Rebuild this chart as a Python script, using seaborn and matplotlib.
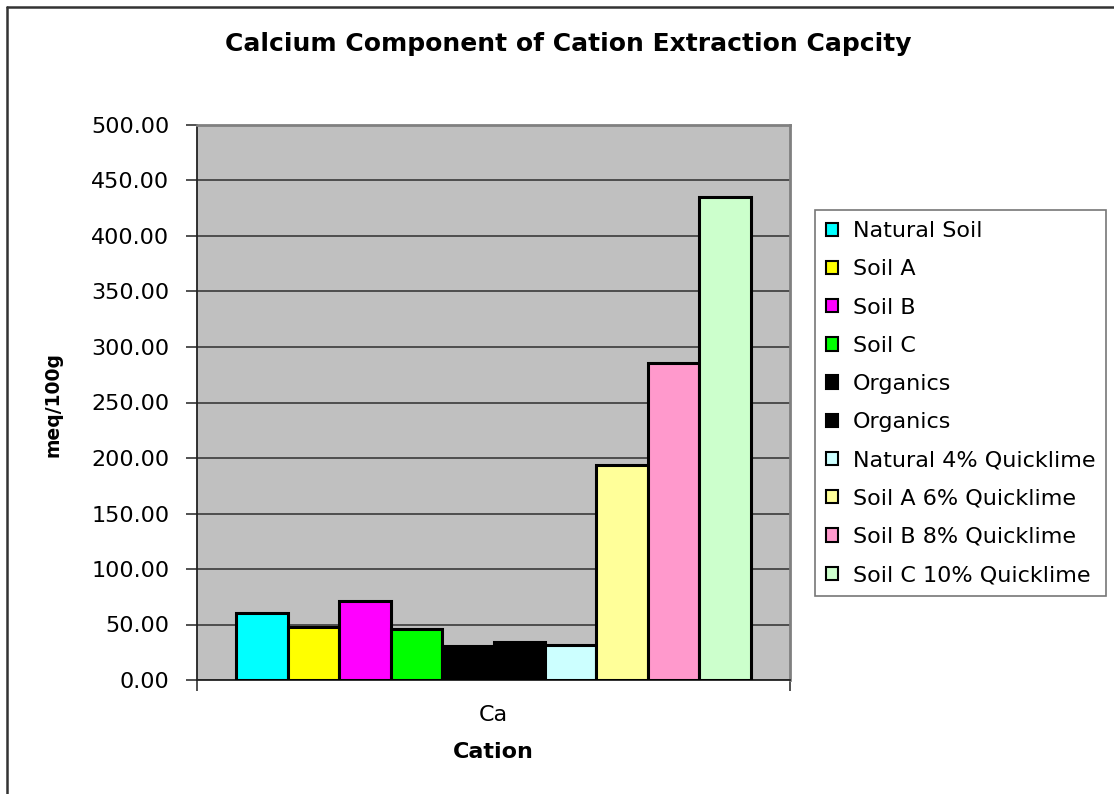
import matplotlib
matplotlib.use("Agg")
import matplotlib.pyplot as plt
import seaborn as sns
import pandas as pd
from matplotlib.patches import Patch
from matplotlib.lines import Line2D
from matplotlib.ticker import FormatStrFormatter

# ---- data ----
categories = ["Ca"]
series_labels = ["Natural Soil", "Soil A", "Soil B", "Soil C", "Organics", "Organics",
                 "Natural 4% Quicklime", "Soil A 6% Quicklime", "Soil B 8% Quicklime",
                 "Soil C 10% Quicklime"]
values = [60.5, 47.7, 71.3, 46.1, 30.8, 34.2, 31.7, 193.6, 285.3, 434.9]
colors = ["#00FFFF", "#FFFF00", "#FF00FF", "#00FF00", "#000000", "#000000",
          "#CCFFFF", "#FFFF99", "#FF99CC", "#CCFFCC"]
yticks = [0, 50, 100, 150, 200, 250, 300, 350, 400, 450, 500]

series_ids = [f"s{i}" for i in range(len(series_labels))]
df = pd.DataFrame({"Cation": categories * len(values), "value": values, "series": series_ids})
palette = dict(zip(series_ids, colors))

sns.set_theme(style="white")
plt.rcParams["font.family"] = ["DejaVu Sans"]
plt.rcParams["text.color"] = "black"
plt.rcParams["axes.labelcolor"] = "black"
plt.rcParams["xtick.color"] = "black"
plt.rcParams["ytick.color"] = "black"

W, H = 1114, 794
fig = plt.figure(figsize=(W / 100, H / 100), dpi=100)
ax = fig.add_axes([197 / W, 1 - 680 / H, (790 - 197) / W, (680 - 125) / H])
ax.set_facecolor("#C0C0C0")

sns.barplot(data=df, x="Cation", y="value", hue="series", hue_order=series_ids,
            palette=palette, width=0.867, edgecolor="black", linewidth=2.2,
            saturation=1, ax=ax, legend=False, zorder=3)

ax.set_xlim(-0.5, 0.5)
ax.set_ylim(0, 500)
ax.set_yticks(yticks)
ax.yaxis.set_major_formatter(FormatStrFormatter("%.2f"))
ax.yaxis.grid(True, color="#4d4d4d", linewidth=1.4, zorder=0)
ax.set_axisbelow(True)
ax.tick_params(axis="y", which="major", direction="out", length=8, width=1.2,
               color="#333333", labelcolor="black", labelsize=16, pad=12, left=True)
ax.tick_params(axis="x", which="major", length=0, labelsize=16, labelcolor="black", pad=18)
ax.set_xticks([0])
ax.set_xticklabels(categories)
ax.set_xticks([-0.5, 0.5], minor=True)
ax.tick_params(axis="x", which="minor", direction="out", length=8, width=1.2, color="#333333", bottom=True)

ax.set_xlabel("Cation", fontsize=16, fontweight="bold", labelpad=12, color="black")
ax.set_ylabel("")
fig.text(53 / W, 1 - 404 / H, "meq/100g", rotation=90, fontsize=13.5, fontweight="bold",
         ha="center", va="center", color="black")

for s in ["left", "bottom"]:
    ax.spines[s].set_color("#222222")
    ax.spines[s].set_linewidth(1.3)
for s in ["top", "right"]:
    ax.spines[s].set_color("#808080")
    ax.spines[s].set_linewidth(2)

fig.text(568 / W, 1 - 44 / H, "Calcium Component of Cation Extraction Capcity",
         fontsize=18, fontweight="bold", ha="center", va="center", color="black")

handles = [Patch(facecolor=c, edgecolor="black", linewidth=1.5) for c in colors]
leg = fig.legend(handles, series_labels, loc="upper left",
                 bbox_to_anchor=(815 / W, 1 - 210 / H), fontsize=16,
                 frameon=True, fancybox=False, shadow=False, edgecolor="#555555",
                 handlelength=0.55, handleheight=0.55, handletextpad=0.65,
                 labelspacing=0.82, borderpad=0.5, borderaxespad=0)
leg.get_frame().set_linewidth(1.2)
for t in leg.get_texts():
    t.set_color("black")

# outer chart frame (top and left edges visible)
fig.add_artist(Line2D([7 / W, 1.0], [1 - 7 / H, 1 - 7 / H], color="#333333", linewidth=1.8,
                      transform=fig.transFigure))
fig.add_artist(Line2D([7 / W, 7 / W], [0, 1 - 7 / H], color="#333333", linewidth=1.8,
                      transform=fig.transFigure))

fig.savefig("out.png", dpi=100, facecolor="white")
